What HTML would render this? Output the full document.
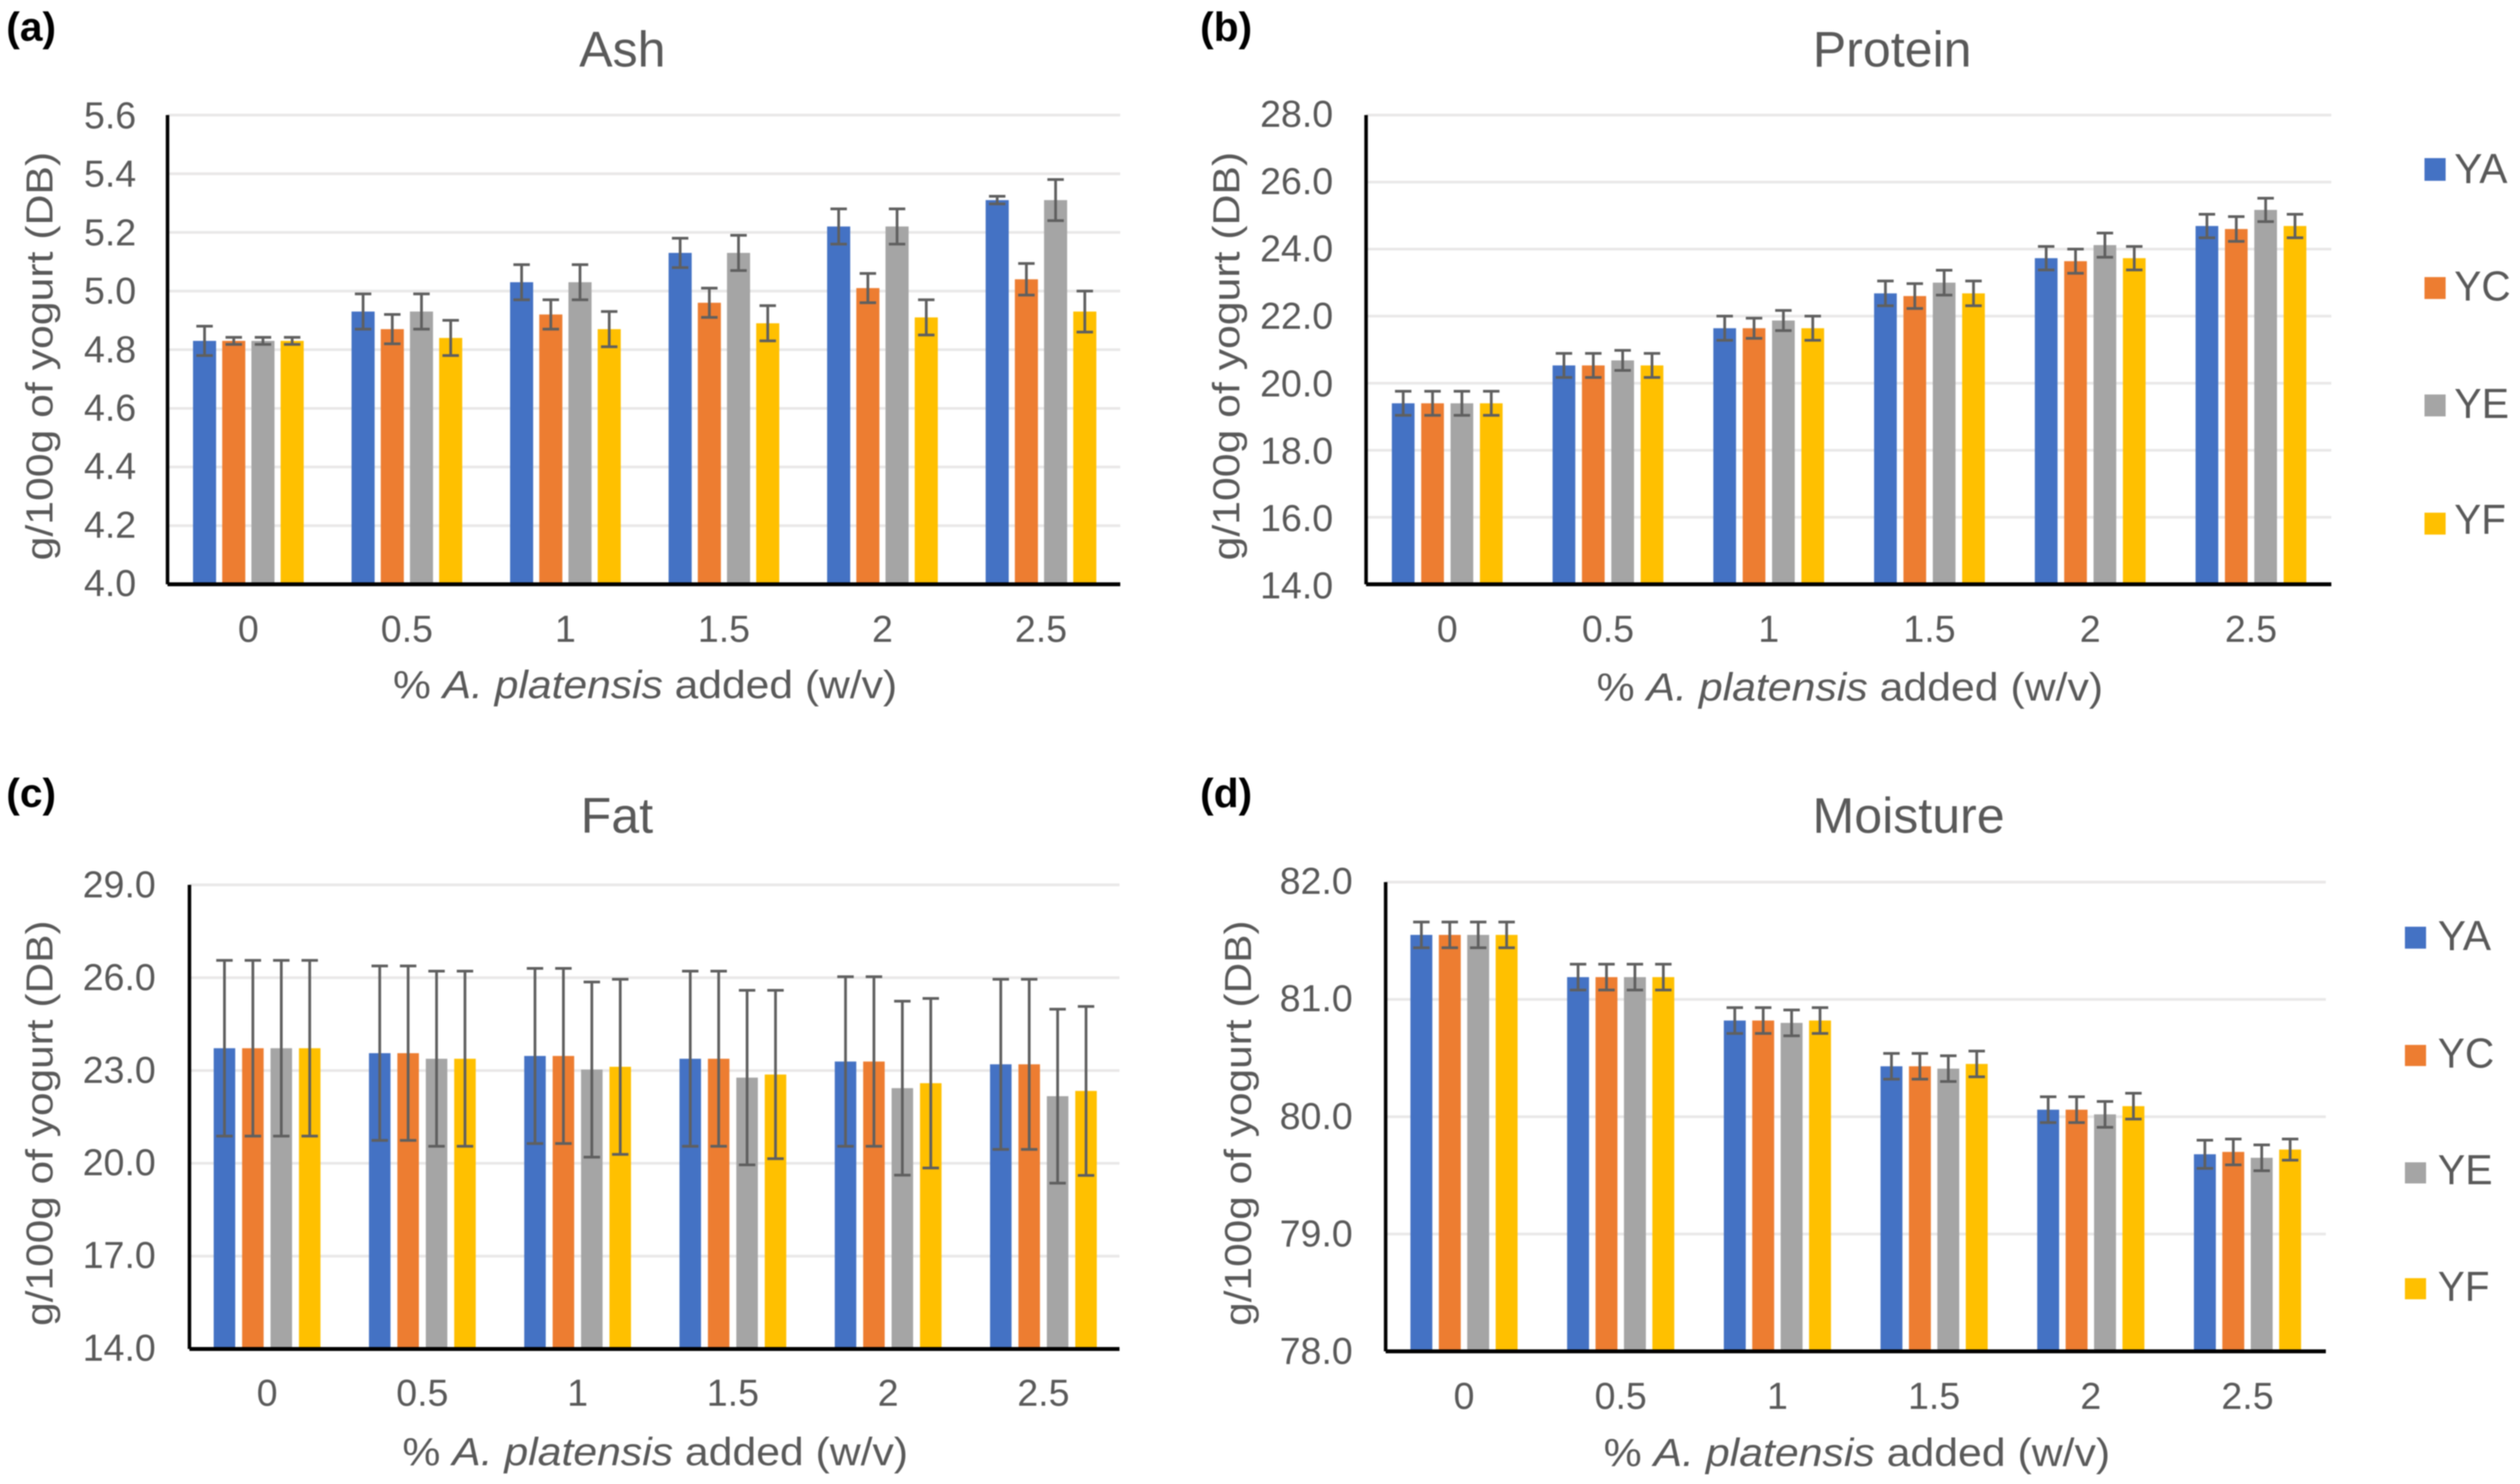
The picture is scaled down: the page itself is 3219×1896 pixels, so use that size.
<!DOCTYPE html>
<html lang="en">
<head>
<meta charset="utf-8">
<title>Yogurt composition charts</title>
<style>
html,body{margin:0;padding:0;background:#fff;}
svg{display:block;font-family:"Liberation Sans",sans-serif;filter:blur(0.7px);}
.title{font-size:64px;fill:#595959;text-anchor:middle;}
.tick{font-size:48px;fill:#595959;}
.axt{font-size:50px;fill:#595959;text-anchor:middle;}
.ytitle{font-size:48px;fill:#595959;text-anchor:middle;}
.panel{font-size:52px;font-weight:bold;fill:#000;}
.leg{font-size:54px;fill:#595959;}
</style>
</head>
<body>
<svg id="root" xmlns="http://www.w3.org/2000/svg" width="3219" height="1896" viewBox="0 0 3219 1896">
  <rect x="0" y="0" width="3219" height="1896" fill="#ffffff"/>
  <g id="marks"></g>

  <text class="panel" x="8" y="52">(a)</text>
  <text class="panel" x="1533" y="52">(b)</text>
  <text class="panel" x="8" y="1031">(c)</text>
  <text class="panel" x="1533" y="1031">(d)</text>

  <text class="title" x="795" y="85">Ash</text>
  <text class="title" x="2417" y="85">Protein</text>
  <text class="title" x="788" y="1064">Fat</text>
  <text class="title" x="2438" y="1064">Moisture</text>

  <text class="axt" x="824" y="892" textLength="644" lengthAdjust="spacingAndGlyphs">% <tspan font-style="italic">A. platensis</tspan> added (w/v)</text>
  <text class="axt" x="2363" y="895" textLength="647" lengthAdjust="spacingAndGlyphs">% <tspan font-style="italic">A. platensis</tspan> added (w/v)</text>
  <text class="axt" x="837" y="1872" textLength="646" lengthAdjust="spacingAndGlyphs">% <tspan font-style="italic">A. platensis</tspan> added (w/v)</text>
  <text class="axt" x="2372" y="1873" textLength="647" lengthAdjust="spacingAndGlyphs">% <tspan font-style="italic">A. platensis</tspan> added (w/v)</text>

  <text class="ytitle" transform="translate(67,455) rotate(-90)" textLength="522" lengthAdjust="spacingAndGlyphs">g/100g of yogurt (DB)</text>
  <text class="ytitle" transform="translate(1583,455) rotate(-90)" textLength="522" lengthAdjust="spacingAndGlyphs">g/100g of yogurt (DB)</text>
  <text class="ytitle" transform="translate(67,1435) rotate(-90)" textLength="518" lengthAdjust="spacingAndGlyphs">g/100g of yogurt (DB)</text>
  <text class="ytitle" transform="translate(1598,1435) rotate(-90)" textLength="518" lengthAdjust="spacingAndGlyphs">g/100g of yogurt (DB)</text>

  <g>
    <rect x="3097" y="202" width="27" height="29" fill="#4472C4"/>
    <text class="leg" x="3135" y="234" textLength="68" lengthAdjust="spacingAndGlyphs">YA</text>
    <rect x="3097" y="354" width="27" height="28" fill="#ED7D31"/>
    <text class="leg" x="3135" y="384" textLength="72" lengthAdjust="spacingAndGlyphs">YC</text>
    <rect x="3097" y="504" width="27" height="28" fill="#A5A5A5"/>
    <text class="leg" x="3135" y="534" textLength="70" lengthAdjust="spacingAndGlyphs">YE</text>
    <rect x="3097" y="655" width="27" height="28" fill="#FFC000"/>
    <text class="leg" x="3135" y="682" textLength="66" lengthAdjust="spacingAndGlyphs">YF</text>
  </g>
  <g>
    <rect x="3072" y="1184" width="27" height="28" fill="#4472C4"/>
    <text class="leg" x="3114" y="1214" textLength="68" lengthAdjust="spacingAndGlyphs">YA</text>
    <rect x="3072" y="1335" width="27" height="27" fill="#ED7D31"/>
    <text class="leg" x="3114" y="1364" textLength="72" lengthAdjust="spacingAndGlyphs">YC</text>
    <rect x="3072" y="1485" width="27" height="27" fill="#A5A5A5"/>
    <text class="leg" x="3114" y="1513" textLength="70" lengthAdjust="spacingAndGlyphs">YE</text>
    <rect x="3072" y="1633" width="27" height="27" fill="#FFC000"/>
    <text class="leg" x="3114" y="1662" textLength="66" lengthAdjust="spacingAndGlyphs">YF</text>
  </g>
</svg>
<script>
var categories = ['0', '0.5', '1', '1.5', '2', '2.5'];
var seriesNames = ['YA', 'YC', 'YE', 'YF'];

var ashTicks = ['4.0', '4.2', '4.4', '4.6', '4.8', '5.0', '5.2', '5.4', '5.6'];
var ashYA = [4.83, 4.93, 5.03, 5.13, 5.22, 5.31];
var ashYC = [4.83, 4.87, 4.92, 4.96, 5.01, 5.04];
var ashYE = [4.83, 4.93, 5.03, 5.13, 5.22, 5.31];
var ashYF = [4.83, 4.84, 4.87, 4.89, 4.91, 4.93];
var ashErrYA = [0.05, 0.06, 0.06, 0.05, 0.06, 0.013];
var ashErrYC = [0.012, 0.05, 0.05, 0.05, 0.05, 0.054];
var ashErrYE = [0.012, 0.06, 0.06, 0.06, 0.06, 0.07];
var ashErrYF = [0.012, 0.06, 0.06, 0.06, 0.06, 0.07];

var proteinTicks = ['14.0', '16.0', '18.0', '20.0', '22.0', '24.0', '26.0', '28.0'];
var proteinYA = [19.40, 20.53, 21.64, 22.68, 23.73, 24.69];
var proteinYC = [19.40, 20.53, 21.64, 22.60, 23.64, 24.60];
var proteinYE = [19.40, 20.68, 21.87, 23.00, 24.12, 25.17];
var proteinYF = [19.40, 20.53, 21.64, 22.68, 23.73, 24.69];
var proteinErrYA = [0.36, 0.36, 0.36, 0.37, 0.35, 0.35];
var proteinErrYC = [0.36, 0.36, 0.30, 0.37, 0.36, 0.37];
var proteinErrYE = [0.36, 0.30, 0.30, 0.37, 0.36, 0.35];
var proteinErrYF = [0.36, 0.36, 0.36, 0.37, 0.35, 0.35];

var fatTicks = ['14.0', '17.0', '20.0', '23.0', '26.0', '29.0'];
var fatYA = [23.72, 23.56, 23.47, 23.38, 23.29, 23.20];
var fatYC = [23.72, 23.56, 23.47, 23.38, 23.29, 23.20];
var fatYE = [23.72, 23.38, 23.03, 22.77, 22.43, 22.17];
var fatYF = [23.72, 23.38, 23.12, 22.87, 22.59, 22.34];
var fatErrYA = [2.84, 2.82, 2.83, 2.83, 2.74, 2.75];
var fatErrYC = [2.84, 2.82, 2.83, 2.83, 2.74, 2.75];
var fatErrYE = [2.84, 2.83, 2.83, 2.82, 2.81, 2.81];
var fatErrYF = [2.84, 2.83, 2.83, 2.72, 2.74, 2.73];

var moistureTicks = ['78.0', '79.0', '80.0', '81.0', '82.0'];
var moistureYA = [81.55, 81.19, 80.82, 80.43, 80.06, 79.68];
var moistureYC = [81.55, 81.19, 80.82, 80.43, 80.06, 79.70];
var moistureYE = [81.55, 81.19, 80.80, 80.41, 80.02, 79.65];
var moistureYF = [81.55, 81.19, 80.82, 80.45, 80.09, 79.72];
var moistureErrYA = [0.11, 0.11, 0.11, 0.11, 0.11, 0.12];
var moistureErrYC = [0.11, 0.11, 0.11, 0.11, 0.11, 0.11];
var moistureErrYE = [0.11, 0.11, 0.11, 0.11, 0.11, 0.11];
var moistureErrYF = [0.11, 0.11, 0.11, 0.11, 0.11, 0.09];

var seriesColors = ['#4472C4', '#ED7D31', '#A5A5A5', '#FFC000'];
var NS = 'http://www.w3.org/2000/svg';
var marksLayer = document.getElementById('marks');

function shape(tag, parent, attrs) {
  var el = document.createElementNS(NS, tag);
  for (var k in attrs) el.setAttribute(k, attrs[k]);
  parent.appendChild(el);
  return el;
}

function drawPanel(key, ticks, series, errors, box) {
  var min = parseFloat(ticks[0]);
  var max = parseFloat(ticks[ticks.length - 1]);
  var yScale = function (v) { return box.bottom - (v - min) / (max - min) * (box.bottom - box.top); };
  var step = (box.right - box.left) / categories.length;
  var groupWidth = box.barW * 4 + (box.pitch - box.barW) * 3;
  var xScale = function (c, s) { return box.left + step * (c + 0.5) - groupWidth / 2 + box.pitch * s; };
  var lineEnd = box.right + box.lineExtra;

  var g = shape('g', marksLayer, {});
  
  

  ticks.forEach(function (label) {
    var v = parseFloat(label);
    var y = yScale(v);
    var frac = (v - min) / (max - min);
    var off = box.tickOffBottom + (box.tickOffTop - box.tickOffBottom) * frac;
    if (v !== min) {
      var grid = shape('line', g, { x1: box.axisX, x2: lineEnd, y1: y, y2: y, stroke: '#E9E8E8', 'stroke-width': 3.5 });
      
      
    }
    var t = shape('text', g, { 'class': 'tick', x: box.tickRight, y: y + 15 + off, 'text-anchor': 'end' });
    t.textContent = label;
    
    
  });

  categories.forEach(function (label, c) {
    var t = shape('text', g, { 'class': 'tick', x: box.left + step * (c + 0.5), y: box.xTickY, 'text-anchor': 'middle' });
    t.textContent = label;
    
    
  });

  series.forEach(function (values, s) {
    values.forEach(function (v, c) {
      var x = xScale(c, s);
      var bar = shape('rect', g, { x: x, y: yScale(v), width: box.barW, height: box.bottom - yScale(v), fill: seriesColors[s] });
      
      
    });
  });

  series.forEach(function (values, s) {
    values.forEach(function (v, c) {
      var cx = xScale(c, s) + box.barW / 2;
      var e = errors[s][c];
      var eb = shape('path', g, {
        d: 'M' + cx + ' ' + yScale(v + e) + 'V' + yScale(v - e) +
           'M' + (cx - 10.5) + ' ' + yScale(v + e) + 'h21' +
           'M' + (cx - 10.5) + ' ' + yScale(v - e) + 'h21',
        stroke: '#5f5f5f', 'stroke-width': 3.5, fill: 'none'
      });
      
      
    });
  });

  var yAxis = shape('line', g, { x1: box.axisX, x2: box.axisX, y1: box.top, y2: box.bottom, stroke: '#000', 'stroke-width': 4.5 });
  
  
  var xAxis = shape('line', g, { x1: box.axisX, x2: lineEnd, y1: box.bottom, y2: box.bottom, stroke: '#000', 'stroke-width': 5 });
  
  
}

drawPanel('ash', ashTicks, [ashYA, ashYC, ashYE, ashYF], [ashErrYA, ashErrYC, ashErrYE, ashErrYF],
  { left: 216, axisX: 214, right: 1431, lineExtra: 0, top: 147, bottom: 746.5, barW: 29.5, pitch: 37.3, tickRight: 174, xTickY: 820, tickOffTop: 2, tickOffBottom: 0 });
drawPanel('protein', proteinTicks, [proteinYA, proteinYC, proteinYE, proteinYF], [proteinErrYA, proteinErrYC, proteinErrYE, proteinErrYF],
  { left: 1746, axisX: 1745, right: 2978, lineExtra: 0, top: 147, bottom: 746.5, barW: 29, pitch: 37.5, tickRight: 1703, xTickY: 820, tickOffTop: 0, tickOffBottom: 3 });
drawPanel('fat', fatTicks, [fatYA, fatYC, fatYE, fatYF], [fatErrYA, fatErrYC, fatErrYE, fatErrYF],
  { left: 242, axisX: 242, right: 1432, lineExtra: -2, top: 1130.5, bottom: 1723.5, barW: 27.5, pitch: 36.3, tickRight: 199, xTickY: 1796, tickOffTop: 1, tickOffBottom: 0 });
drawPanel('moisture', moistureTicks, [moistureYA, moistureYC, moistureYE, moistureYF], [moistureErrYA, moistureErrYC, moistureErrYE, moistureErrYF],
  { left: 1770, axisX: 1770, right: 2971, lineExtra: 0, top: 1127, bottom: 1726.5, barW: 28, pitch: 36.3, tickRight: 1728, xTickY: 1800, tickOffTop: 0, tickOffBottom: 1 });
</script>
</body>
</html>
